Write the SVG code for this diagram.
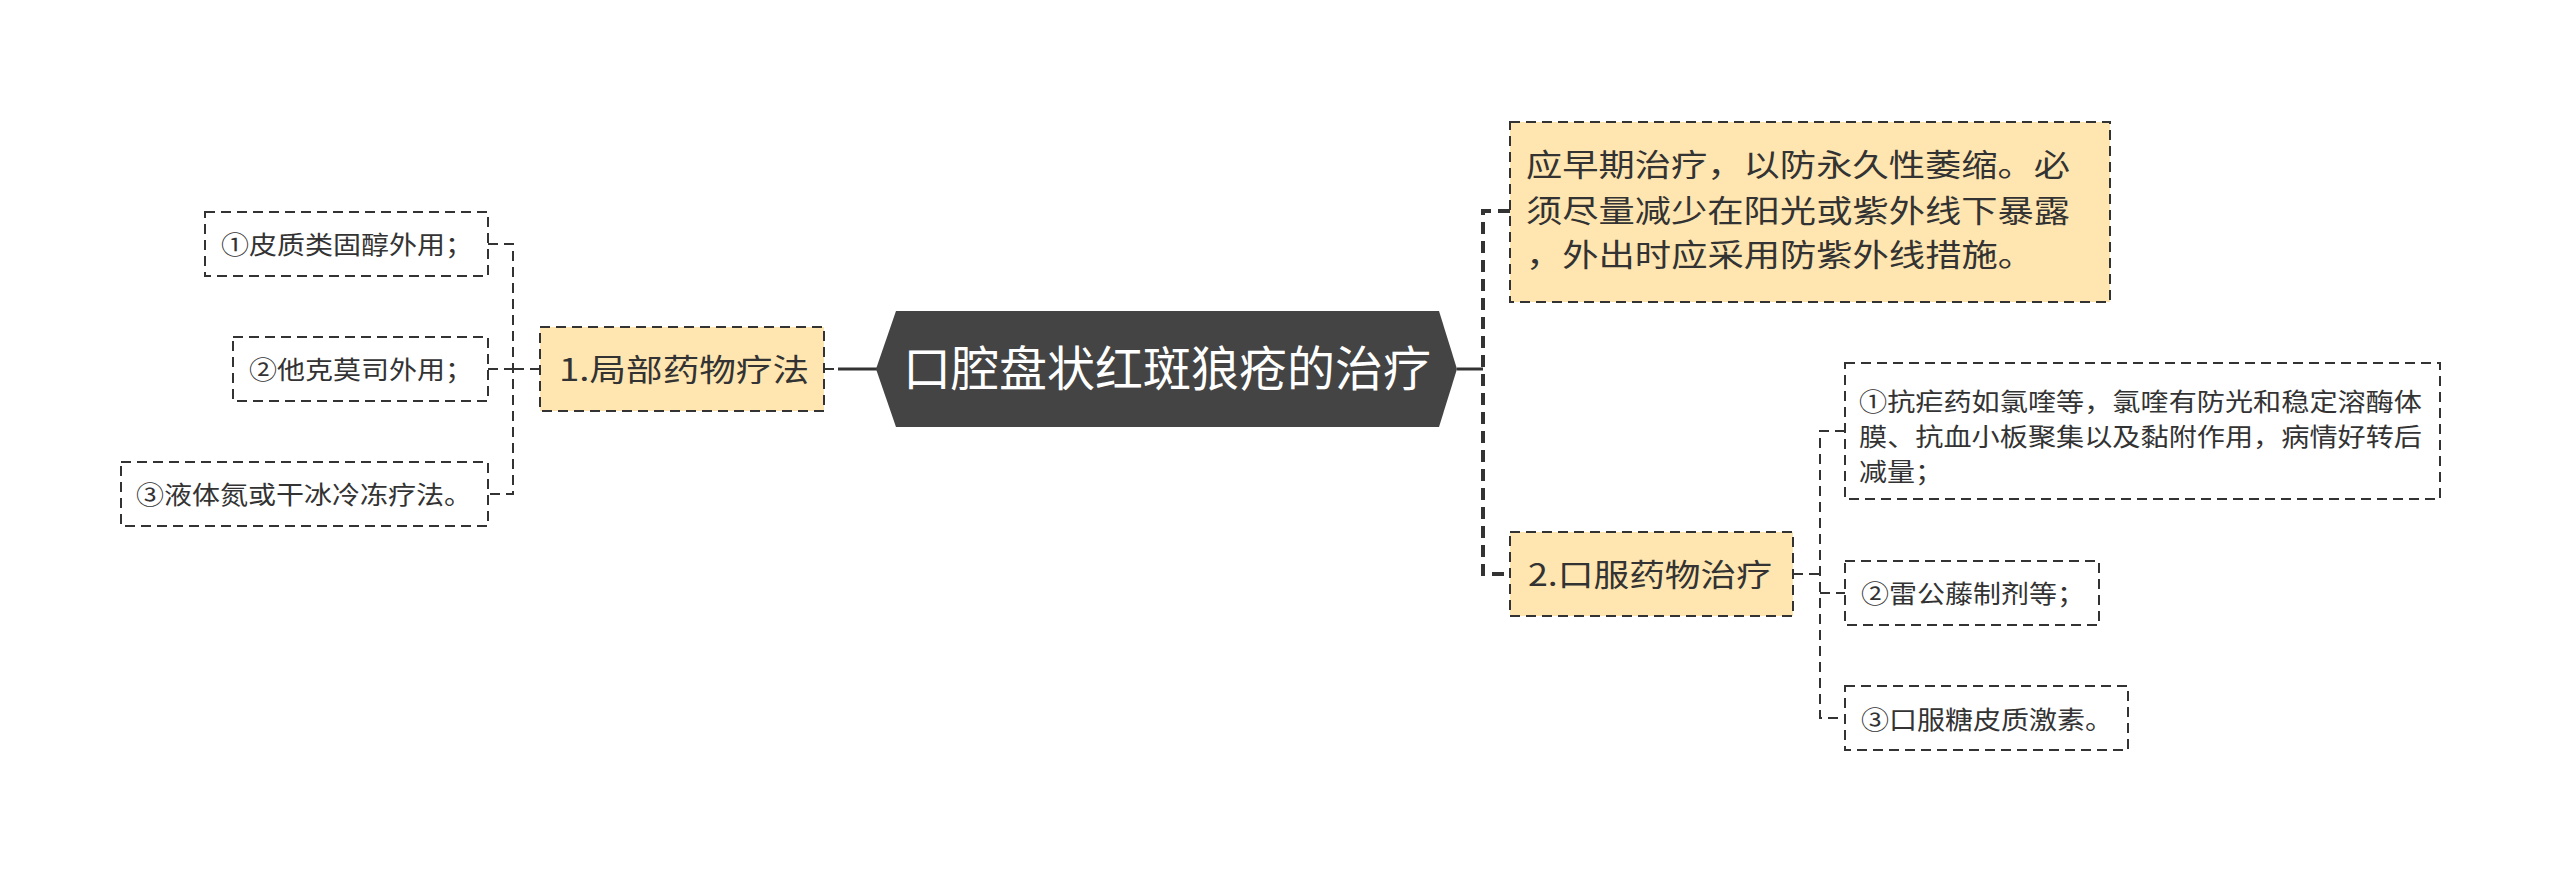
<svg xmlns="http://www.w3.org/2000/svg" width="2560" height="871" viewBox="0 0 2560 871">
<style>
text{font-family:"Noto Sans CJK SC","Microsoft YaHei",sans-serif;fill:#333333;}
.box{fill:#ffffff;stroke:#333333;stroke-width:2;stroke-dasharray:10 6;}
.ybox{fill:#ffe6b0;stroke:#333333;stroke-width:2;stroke-dasharray:10 6;}
.c{fill:none;stroke:#333333;stroke-width:2;stroke-dasharray:10 6;}
.ct{fill:none;stroke:#333333;stroke-width:4;stroke-dasharray:12 7;}
.s{fill:none;stroke:#333333;stroke-width:3;}
.t25{font-size:25px;}
.t31{font-size:31px;}
</style>
<rect width="2560" height="871" fill="#ffffff"/>
<g id="connectors">
  <line class="s" x1="838" y1="369" x2="877" y2="369"/>
  <line class="c" x1="824" y1="369" x2="838" y2="369"/>
  <path class="c" d="M540 369 H513 M488 244 H513 V494 H488 M488 369 H513"/>
  <line class="s" x1="1457" y1="369" x2="1483" y2="369"/>
  <path class="ct" d="M1510 211 H1483 V574 H1510"/>
  <path class="c" d="M1793 574 H1820 M1845 431 H1820 V718 H1845 M1820 593 H1845"/>
</g>
<g id="root">
  <polygon points="876,369 896,311 1439,311 1457,369 1439,427 896,427" fill="#444444"/>
  <text x="1167" y="386" font-size="48" text-anchor="middle" style="fill:#ffffff">口腔盘状红斑狼疮的治疗</text>
</g>
<g id="n1">
  <rect class="ybox" x="540" y="327" width="284" height="84"/>
  <text class="t31" x="559" y="381" textLength="250" lengthAdjust="spacingAndGlyphs">1.局部药物疗法</text>
</g>
<g id="n1a">
  <rect class="box" x="205" y="212" width="283" height="64"/>
  <text class="t25" x="221" y="253.5" textLength="252" lengthAdjust="spacingAndGlyphs">①皮质类固醇外用；</text>
</g>
<g id="n1b">
  <rect class="box" x="233" y="337" width="255" height="64"/>
  <text class="t25" x="249" y="378.5" textLength="224" lengthAdjust="spacingAndGlyphs">②他克莫司外用；</text>
</g>
<g id="n1c">
  <rect class="box" x="121" y="462" width="367" height="64"/>
  <text class="t25" x="136" y="503.5" textLength="336" lengthAdjust="spacingAndGlyphs">③液体氮或干冰冷冻疗法。</text>
</g>
<g id="n0">
  <rect class="ybox" x="1510" y="122" width="600" height="180"/>
  <text class="t31" x="1526" y="176" textLength="544" lengthAdjust="spacingAndGlyphs">应早期治疗，以防永久性萎缩。必</text>
  <text class="t31" x="1526" y="222" textLength="544" lengthAdjust="spacingAndGlyphs">须尽量减少在阳光或紫外线下暴露</text>
  <text class="t31" x="1526" y="266" textLength="508" lengthAdjust="spacingAndGlyphs">，外出时应采用防紫外线措施。</text>
</g>
<g id="n2">
  <rect class="ybox" x="1510" y="532" width="283" height="84"/>
  <text class="t31" x="1528" y="586" textLength="244" lengthAdjust="spacingAndGlyphs">2.口服药物治疗</text>
</g>
<g id="n2a">
  <rect class="box" x="1845" y="363" width="595" height="136"/>
  <text class="t25" x="1859" y="410.5" textLength="563" lengthAdjust="spacingAndGlyphs">①抗疟药如氯喹等，氯喹有防光和稳定溶酶体</text>
  <text class="t25" x="1859" y="446" textLength="563" lengthAdjust="spacingAndGlyphs">膜、抗血小板聚集以及黏附作用，病情好转后</text>
  <text class="t25" x="1859" y="480.5" textLength="84" lengthAdjust="spacingAndGlyphs">减量；</text>
</g>
<g id="n2b">
  <rect class="box" x="1845" y="561" width="254" height="64"/>
  <text class="t25" x="1861" y="602.5" textLength="224" lengthAdjust="spacingAndGlyphs">②雷公藤制剂等；</text>
</g>
<g id="n2c">
  <rect class="box" x="1845" y="686" width="283" height="64"/>
  <text class="t25" x="1861" y="728.5" textLength="252" lengthAdjust="spacingAndGlyphs">③口服糖皮质激素。</text>
</g>
</svg>
